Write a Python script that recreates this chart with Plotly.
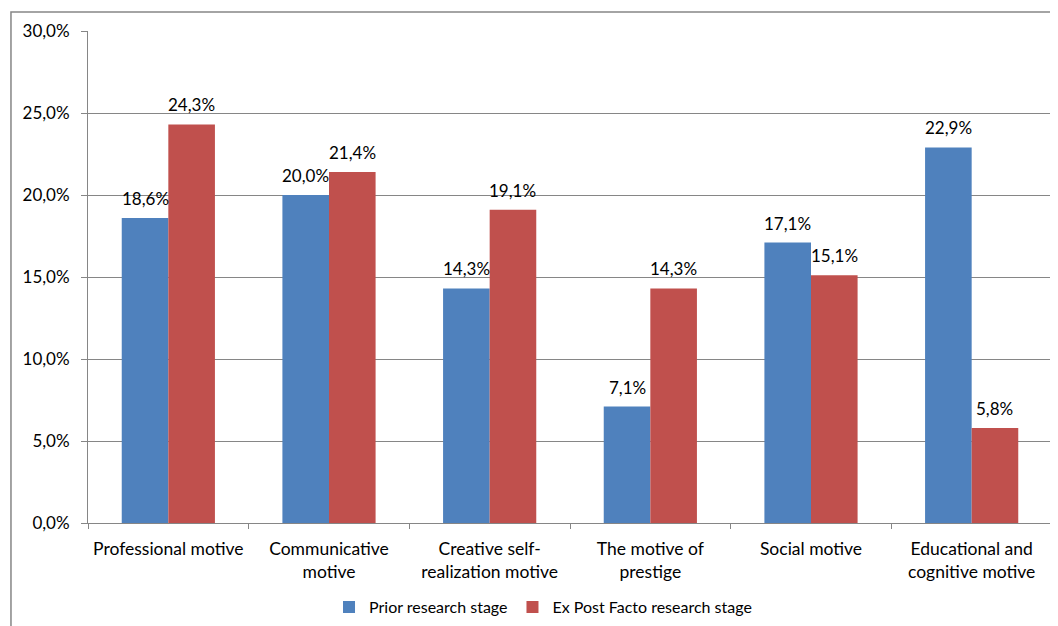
import plotly.graph_objects as go

categories = ["Professional motive", "Communicative<br>motive", "Creative self-<br>realization motive",
              "The motive of<br>prestige", "Social motive", "Educational and<br>cognitive motive"]
prior = [0.186, 0.200, 0.143, 0.071, 0.171, 0.229]
expost = [0.243, 0.214, 0.191, 0.143, 0.151, 0.058]
series_names = ["Prior research stage", "Ex Post Facto research stage"]
colors = ["#4F81BD", "#C0504D"]
yticks = [0, 0.05, 0.10, 0.15, 0.20, 0.25, 0.30]

FONT = "Lato, 'Open Sans', sans-serif"

fig = go.Figure()
for name, vals, col in zip(series_names, [prior, expost], colors):
    fig.add_trace(go.Bar(
        x=categories, y=vals, name=name, marker_color=col, marker_line_width=0,
    ))

# data labels above each bar (offset to the bar's slot within the group)
annotations = []
for vals, shift in zip([prior, expost], [-23.3, 23.3]):
    for cat, v in zip(categories, vals):
        annotations.append(dict(
            x=cat, y=v, xref="x", yref="y", text=f"{v*100:.1f}%".replace(".", ","),
            showarrow=False, xanchor="center", yanchor="bottom", xshift=shift, yshift=7,
            font=dict(size=17, color="#000000", family=FONT),
        ))

fig.update_layout(
    width=1058, height=626,
    margin=dict(l=80, r=14, t=23, b=111, autoexpand=False),
    plot_bgcolor="white", paper_bgcolor="white",
    separators=",.",
    barmode="group", bargap=0.42, bargroupgap=0,
    font=dict(family=FONT, size=17, color="#000000"),
    showlegend=True,
    legend=dict(orientation="h", x=0.472, xanchor="center", y=-0.171, yanchor="middle",
                font=dict(size=16), itemwidth=30, traceorder="normal"),
    xaxis=dict(showline=True, linecolor="#868686", linewidth=1, automargin=False,
               ticks="outside", tickson="boundaries", ticklen=5, tickcolor="#868686",
               tickfont=dict(size=17.5), showgrid=False, ticklabelstandoff=10, tickangle=0),
    yaxis=dict(range=[0, 0.30], tickvals=yticks, tickformat=".1%", automargin=False,
               showline=True, linecolor="#868686", linewidth=1,
               ticks="outside", ticklen=6, tickcolor="#868686",
               showgrid=True, gridcolor="#868686", gridwidth=1,
               tickfont=dict(size=17), zeroline=False, ticklabelstandoff=8),
    annotations=annotations,
    shapes=[dict(type="rect", xref="paper", yref="paper", x0=-0.0799, x1=1.03, y0=-0.25, y1=1.0386,
                 line=dict(color="#868686", width=1.5), fillcolor="rgba(0,0,0,0)", layer="below")],
)

fig.write_html("out.html")
